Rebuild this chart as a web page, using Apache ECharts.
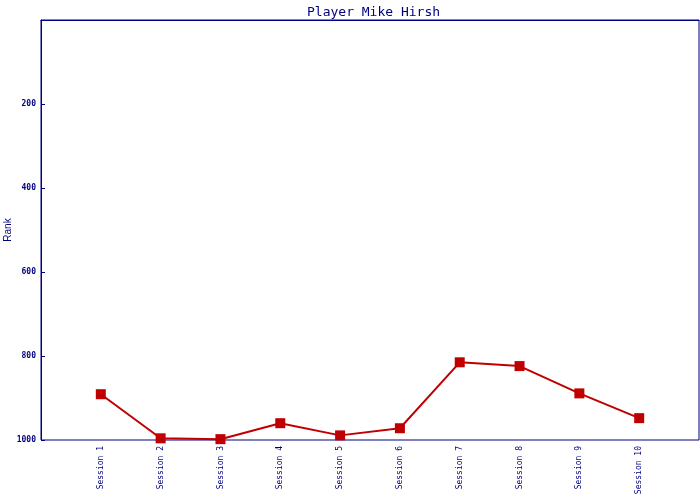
<!DOCTYPE html>
<html><head><meta charset="utf-8">
<script src="https://cdn.jsdelivr.net/npm/echarts@6/dist/echarts.min.js"></script>
<style>html,body{margin:0;padding:0;background:#fff}#c{width:700px;height:500px}</style>
</head><body><div id="c"></div>
<script>
var categories = ['Session 1','Session 2','Session 3','Session 4','Session 5','Session 6','Session 7','Session 8','Session 9','Session 10'];
var ranks = [891, 996, 998, 960, 989, 972, 815, 824, 889, 948];
var yTicks = [200, 400, 600, 800, 1000];

var navy = '#000080';
var chart = echarts.init(document.getElementById('c'));
chart.setOption({
  animation: false,
  title: {
    text: 'Player Mike Hirsh', left: 302, top: 1,
    textStyle: {fontFamily: 'DejaVu Sans Mono', fontSize: 13, fontWeight: 'normal', color: navy}
  },
  grid: {left: 41, right: 1, top: 20, bottom: 60, containLabel: false, outerBoundsMode: 'none',
         show: true, borderColor: navy, borderWidth: 1, backgroundColor: 'transparent'},
  xAxis: {
    type: 'value', min: 0, max: categories.length + 1, interval: 1,
    axisLine: {show: true, lineStyle: {color: navy, width: 1}},
    axisTick: {show: false},
    splitLine: {show: false},
    axisLabel: {
      rotate: 90, margin: 6, color: navy, fontFamily: 'DejaVu Sans Mono', fontSize: 8,
      showMinLabel: false, showMaxLabel: false,
      formatter: function (v) { return categories[v - 1] || ''; }
    }
  },
  yAxis: {
    type: 'value', inverse: true, min: 0, max: 1000, interval: 200,
    name: 'Rank', nameLocation: 'middle', nameGap: 28, nameRotate: 90, nameMoveOverlap: false,
    nameTextStyle: {fontFamily: 'Liberation Sans', fontSize: 10, color: navy},
    axisLine: {show: true, lineStyle: {color: navy, width: 1}},
    axisTick: {show: true, inside: true, length: 4, lineStyle: {color: navy}},
    splitLine: {show: false},
    axisLabel: {
      color: navy, fontFamily: 'DejaVu Sans Mono', fontSize: 8, fontWeight: 'bold', margin: 5,
      formatter: function (v) { return yTicks.indexOf(v) >= 0 ? String(v) : ''; }
    }
  },
  series: [{
    type: 'line',
    data: ranks.map(function (r, i) { return [i + 1, r]; }),
    symbol: 'rect', symbolSize: 10,
    lineStyle: {color: '#c00000', width: 2},
    itemStyle: {color: '#c00000'},
    clip: false
  }]
});
</script></body></html>
